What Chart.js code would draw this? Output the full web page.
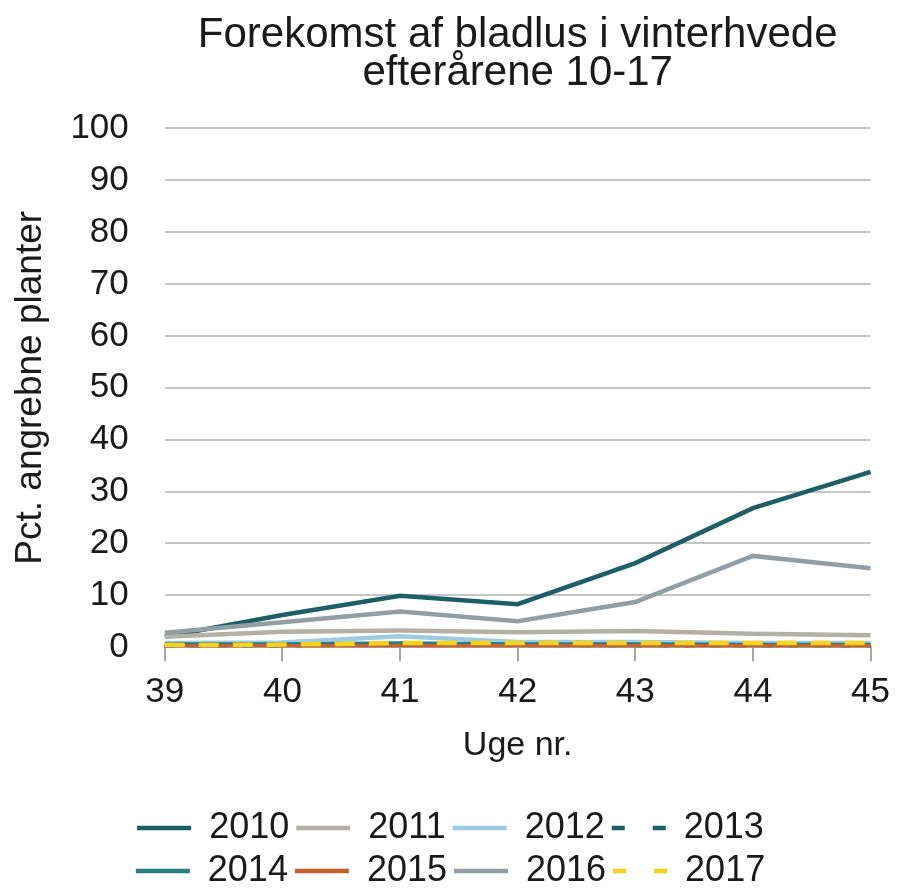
<!DOCTYPE html>
<html>
<head>
<meta charset="utf-8">
<script src="https://cdn.jsdelivr.net/npm/chart.js@4/dist/chart.umd.min.js"></script>
<style>
  html, body { margin: 0; padding: 0; background: #fff; }
  #wrap { width: 900px; height: 890px; }
</style>
</head>
<body>
<div id="wrap"><canvas id="chart"></canvas></div>
<script>
'use strict';

// ─── Data ──────────────────────────────────────────────────────
const weeks = ['39', '40', '41', '42', '43', '44', '45'];
const yTicks = [0, 10, 20, 30, 40, 50, 60, 70, 80, 90, 100];

const y2010 = [2.0, 6.2, 9.9, 8.3, 16.2, 26.8, 33.8];
const y2011 = [2.0, 3.0, 3.2, 2.9, 3.1, 2.6, 2.3];
const y2012 = [0.8, 0.9, 2.1, 1.0, 1.0, 0.8, 0.8];
const y2013 = [0.3, 0.3, 0.6, 0.4, 0.3, 0.3, 0.3];
const y2014 = [0.5, 0.5, 0.7, 0.5, 0.5, 0.4, 0.4];
const y2015 = [0.2, 0.2, 0.2, 0.2, 0.2, 0.2, 0.2];
const y2016 = [2.8, 4.8, 6.9, 5.0, 8.7, 17.6, 15.2];
const y2017 = [0.4, 0.5, 0.8, 0.8, 0.8, 0.8, 0.8];

const FONT = "'Liberation Sans', Arial, sans-serif";
const TXT = '#1a1a1a';

// label, values, colour, dash in plot, dash in legend
const series = [
  ['2010', y2010, '#1e5e66', [], []],
  ['2011', y2011, '#b3b0a6', [], []],
  ['2012', y2012, '#9ccbe2', [], []],
  ['2013', y2013, '#1e5e66', [10, 16], [13, 28]],
  ['2014', y2014, '#2a7c80', [], []],
  ['2015', y2015, '#c8622c', [], []],
  ['2016', y2016, '#919fa5', [], []],
  ['2017', y2017, '#f6d31c', [20, 14], [13, 28]],
];

const datasets = series.map(([label, data, color, dash], i) => ({
  label,
  data,
  borderColor: color,
  backgroundColor: color,
  borderWidth: 4.5,
  borderDash: dash,
  pointRadius: 0,
  tension: 0,
  fill: false,
  order: -i, // later years drawn on top
}));

const chart = new Chart(document.getElementById('chart'), {
  type: 'line',
  data: { labels: weeks, datasets },
  options: {
    responsive: true,
    maintainAspectRatio: false,
    animation: false,
    layout: { padding: { left: 9, right: 8, top: 9, bottom: -9 } },
    scales: {
      x: {
        offset: false,
        grid: { drawOnChartArea: false, drawTicks: true, tickLength: 14, color: '#a6a6a6', lineWidth: 2 },
        border: { display: true, color: '#a6a6a6', width: 2 },
        ticks: { color: TXT, font: { family: FONT, size: 35 }, padding: 10, maxRotation: 0 },
        title: { display: true, text: 'Uge nr.', color: TXT, font: { family: FONT, size: 34 }, padding: { top: 2, bottom: 37 } },
      },
      y: {
        min: 0,
        max: 100,
        afterBuildTicks: axis => { axis.ticks = yTicks.map(v => ({ value: v })); },
        grid: { drawTicks: false, color: '#c6c6c6', lineWidth: 2 },
        border: { display: false },
        ticks: { color: TXT, font: { family: FONT, size: 35 }, padding: 36 },
        title: { display: true, text: 'Pct. angrebne planter', color: TXT, font: { family: FONT, size: 37 }, padding: { top: 0, bottom: -19 } },
      },
    },
    plugins: {
      title: {
        display: true,
        fullSize: false, // centred over the plot, as in the source
        text: ['Forekomst af bladlus i vinterhvede', 'efterårene 10-17'],
        color: TXT,
        font: { family: FONT, size: 42, weight: 'normal', lineHeight: 0.91 },
        padding: { top: 7, bottom: 36 },
      },
      legend: {
        position: 'bottom',
        labels: {
          color: TXT,
          font: { family: FONT, size: 36 },
          usePointStyle: true,
          pointStyle: 'line',
          pointStyleWidth: 54,
          padding: 7,
          sort: (a, b) => a.datasetIndex - b.datasetIndex,
          generateLabels: c => Chart.defaults.plugins.legend.labels.generateLabels(c).map(item => {
            item.lineWidth = 4.5;
            item.lineDash = series[item.datasetIndex][4];
            return item;
          }),
        },
      },
      tooltip: { enabled: false },
    },
  },
});

// Source legend breaks after four entries per row
const legendFit = chart.legend.fit;
chart.legend.fit = function () {
  this.maxWidth = Math.min(this.maxWidth, 700);
  legendFit.call(this);
};
chart.update();
</script>
</body>
</html>
